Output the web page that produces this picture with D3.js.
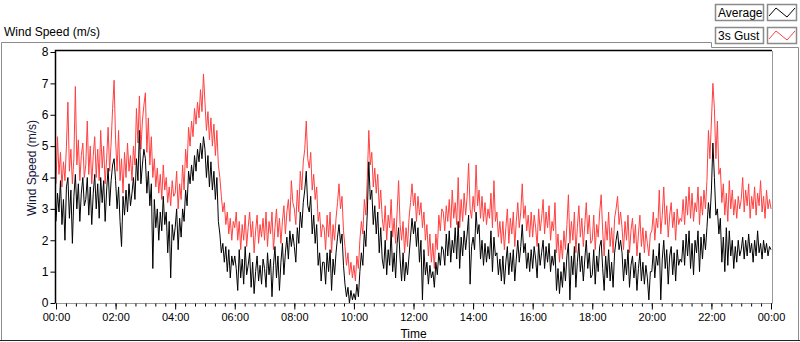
<!DOCTYPE html>
<html>
<head>
<meta charset="utf-8">
<script src="https://cdn.jsdelivr.net/npm/d3@7"></script>
<style>
  html, body { margin: 0; padding: 0; background: #fff; }
  svg { display: block; font-family: "Liberation Sans", Arial, sans-serif; }
</style>
</head>
<body>
<div id="chart"></div>
<script>
// Sampled every 3 minutes from 00:00 to 24:00 (one row per hour)
const average = [
  2.6,3.5,2.9,3.9,2.5,3.3,2.0,3.7,4.0,2.7,3.6,1.9,3.4,4.1,3.0,3.8,2.6,3.5,4.0,3.1,
  3.3,4.0,2.8,3.7,2.5,3.5,4.1,3.0,3.8,2.7,4.0,3.2,3.9,2.6,3.6,4.3,3.1,3.9,4.4,4.6,
  3.9,3.0,3.7,2.6,1.8,3.4,2.8,3.6,2.9,3.8,3.1,3.5,4.0,3.3,4.6,3.9,5.5,3.8,4.4,4.9,
  4.6,3.5,4.2,3.1,3.8,1.1,3.3,2.4,3.0,2.0,2.9,2.3,3.4,2.5,2.9,1.6,2.6,0.8,2.5,2.0,
  2.4,3.0,1.7,2.7,2.1,3.0,2.6,3.6,3.1,4.2,3.8,4.4,3.9,4.7,4.2,4.9,4.5,5.1,4.6,5.3,
  4.9,4.0,4.7,3.7,4.5,3.6,4.2,3.3,4.0,2.6,2.2,1.6,1.9,1.3,1.8,1.0,1.7,0.8,1.5,1.2,
  1.5,1.1,0.4,1.7,0.8,1.4,0.6,1.8,0.9,1.2,1.6,0.5,1.3,0.3,1.0,1.5,0.7,1.2,0.6,1.4,
  1.1,0.5,1.6,0.9,1.4,0.2,1.2,1.8,0.8,1.5,0.4,1.3,1.9,0.9,1.6,2.1,1.4,2.3,1.8,2.2,
  1.8,1.3,2.4,1.9,2.9,2.4,3.2,3.6,4.2,3.1,2.9,3.4,2.2,2.8,1.9,2.5,1.2,1.6,0.7,1.3,
  1.3,0.6,1.6,1.0,1.7,0.4,1.4,0.9,1.6,2.1,2.5,1.9,2.2,1.2,0.6,0.2,0.5,0.0,0.4,0.1,
  0.3,0.1,0.6,0.2,1.0,1.6,1.2,2.3,1.8,2.9,4.5,3.3,3.6,2.5,3.1,2.2,2.9,1.6,2.4,1.4,
  1.1,2.0,0.9,1.7,1.2,2.3,1.0,1.6,0.8,1.9,2.4,1.4,0.7,1.6,0.7,1.3,0.9,1.5,2.1,2.7,
  2.2,2.6,1.8,2.4,1.3,2.0,0.1,1.7,0.9,1.3,0.6,1.2,0.8,1.0,0.5,1.3,0.9,1.6,1.2,1.8,
  1.7,1.2,2.2,1.5,2.3,1.3,2.0,1.6,2.4,1.4,2.6,1.1,2.1,1.5,2.3,1.7,2.2,2.8,0.6,1.8,
  2.1,1.7,2.9,2.2,2.5,1.4,2.0,1.2,1.9,1.3,1.8,1.4,2.3,1.0,2.1,1.5,1.6,0.9,1.4,0.7,
  1.5,0.6,1.3,1.8,0.9,1.6,1.0,1.7,0.7,1.4,2.0,1.3,1.8,2.5,1.6,1.9,1.1,1.6,1.0,1.7,
  1.1,1.8,1.4,0.8,1.9,1.2,1.6,2.0,1.1,1.8,1.3,1.9,1.0,1.5,1.2,1.7,0.4,1.1,0.3,1.0,
  0.5,1.3,0.7,1.5,1.9,0.1,1.5,0.9,1.8,0.5,1.3,1.9,1.0,1.5,0.7,1.4,2.0,1.1,1.6,0.8,
  0.9,1.7,0.6,1.5,1.0,1.8,2.0,1.1,0.4,1.5,0.8,1.7,0.7,1.3,0.5,1.6,2.0,2.3,1.7,2.0,
  1.6,0.7,1.4,0.9,1.7,0.5,1.2,1.5,0.8,1.3,0.4,1.1,1.6,0.7,1.3,0.6,1.2,0.8,0.1,1.0,
  1.0,1.7,0.8,1.5,1.2,1.9,0.1,1.4,2.0,1.1,1.7,0.6,1.5,1.8,0.9,1.6,0.7,1.7,1.2,1.4,
  1.3,2.0,1.2,2.2,1.5,2.3,1.1,1.9,0.9,2.0,1.6,2.3,1.0,2.1,1.4,2.2,1.7,2.4,3.2,2.7,
  3.6,5.1,4.0,2.8,3.0,2.2,2.7,1.3,2.1,1.0,2.4,1.2,2.3,1.5,2.0,1.1,1.8,1.3,2.0,1.5,
  1.7,2.1,1.4,2.0,1.5,2.2,1.6,1.9,1.3,2.0,1.5,2.3,1.6,1.9,1.4,2.0,1.6,1.9,1.5,1.8,
  1.7
];

const gust = [
  3.8,5.3,4.1,4.8,3.7,4.5,3.9,5.0,6.4,4.2,4.9,3.8,4.6,6.9,4.4,5.2,3.9,4.7,5.1,4.0,
  4.4,5.8,4.1,5.0,3.8,4.7,5.3,4.0,4.9,3.9,5.5,4.3,5.0,3.8,4.6,5.6,4.2,5.1,6.2,7.1,
  5.2,4.2,5.5,3.9,4.6,3.5,4.8,4.0,5.1,4.2,4.7,3.9,5.0,4.4,6.2,5.1,6.6,4.9,5.8,6.3,
  6.7,4.8,5.9,4.4,5.3,4.0,4.6,3.7,4.3,3.5,4.1,3.3,4.4,3.6,4.0,3.2,3.7,3.1,3.9,3.4,
  3.5,4.2,3.0,3.8,3.3,4.4,3.6,4.9,4.3,5.6,5.0,5.8,5.3,6.2,5.7,6.4,5.9,6.8,6.1,7.3,
  6.4,5.5,6.1,5.2,5.9,5.0,5.7,4.7,5.5,4.4,4.0,3.4,2.9,3.2,2.5,2.9,2.2,2.7,2.0,2.6,
  2.4,2.9,2.0,2.6,1.7,2.5,2.0,2.8,1.8,2.4,2.9,2.1,2.6,1.6,2.3,2.8,1.9,2.5,2.1,2.7,
  2.0,2.9,1.8,2.6,2.2,2.9,1.7,2.4,3.0,2.1,2.7,1.9,2.6,3.1,2.2,2.9,3.3,2.6,3.9,3.2,
  3.0,2.5,3.6,2.9,4.2,3.6,4.5,4.9,5.8,4.6,4.3,4.8,3.6,4.1,3.3,3.7,2.6,2.9,2.1,2.5,
  2.4,1.7,2.8,2.1,2.9,1.6,2.5,2.0,2.7,3.2,3.8,3.0,3.4,2.3,1.8,1.2,1.6,0.9,1.3,0.8,
  1.2,0.7,1.5,1.1,2.0,2.6,2.2,3.3,2.8,4.0,5.5,4.4,4.8,3.7,4.3,3.5,4.1,3.0,3.6,2.7,
  2.3,3.1,2.0,2.8,2.4,3.3,2.1,2.7,1.9,2.9,3.9,2.5,2.0,2.6,1.6,2.4,1.8,2.7,3.2,3.8,
  3.1,3.5,2.6,3.4,2.8,3.2,2.4,2.9,2.0,2.5,1.5,2.2,1.3,1.9,1.1,2.2,1.7,2.8,2.3,3.0,
  2.9,2.3,3.1,2.6,3.3,2.4,3.6,2.7,3.2,2.5,4.0,2.4,3.3,2.6,3.5,2.8,3.4,4.45,3.0,2.7,
  3.4,2.9,4.4,3.1,3.6,2.7,3.4,2.6,3.2,2.5,3.0,2.7,3.5,2.4,3.9,2.6,2.9,2.1,2.6,1.9,
  2.6,1.7,2.4,3.0,1.9,2.7,2.2,2.9,1.8,2.6,3.2,2.4,2.9,3.8,2.7,3.1,2.3,2.8,2.1,2.9,
  2.1,2.8,2.4,1.8,3.0,2.3,2.7,3.3,2.2,2.9,2.4,3.1,2.0,2.6,2.3,3.2,1.6,2.2,1.3,2.0,
  1.4,2.3,1.7,2.5,3.45,1.9,2.6,2.0,2.9,1.6,2.4,3.1,2.1,2.7,1.8,2.5,3.2,2.2,2.8,1.9,
  2.0,2.8,1.7,2.5,2.1,2.9,3.45,2.3,1.5,2.6,2.0,2.9,1.8,2.4,1.6,2.7,3.0,3.4,2.5,2.9,
  2.4,1.7,2.6,2.0,2.8,1.6,2.3,2.7,1.9,2.5,1.5,2.2,2.8,1.8,2.4,1.6,2.3,1.9,1.5,2.2,
  2.3,2.9,2.0,2.7,2.4,3.6,2.2,2.8,3.7,2.5,3.1,2.1,2.8,3.2,2.4,2.9,2.0,3.0,2.5,2.7,
  2.6,3.3,2.5,3.4,2.8,3.7,2.7,3.5,2.6,3.2,2.9,3.7,2.5,3.4,2.8,3.6,3.0,3.9,5.5,4.6,
  5.8,7.0,6.2,4.6,5.8,4.1,4.3,3.2,3.8,2.8,3.5,2.6,3.9,3.0,3.6,2.8,3.3,2.7,3.4,3.0,
  3.3,4.0,2.9,3.6,3.1,3.8,2.7,3.4,3.0,3.7,2.8,3.5,3.1,3.9,2.9,3.4,2.7,3.6,3.0,3.3,
  3.0
];

const stepMinutes = 3;
const yTicks = [0, 1, 2, 3, 4, 5, 6, 7, 8];
const xTickLabels = ["00:00", "02:00", "04:00", "06:00", "08:00", "10:00", "12:00",
                     "14:00", "16:00", "18:00", "20:00", "22:00", "00:00"];
const seriesNames = ["Average", "3s Gust"];
const seriesColors = ["#000000", "#ff4040"];

const width = 800, height = 342;
const plot = { left: 56, right: 771, top: 52, bottom: 303 };

const svg = d3.select("#chart").append("svg")
    .attr("width", width)
    .attr("height", height);

// outer frame
svg.append("path")
    .attr("d", "M1.5,340 V42.5 H711.5 V47.5 H798.5 V340")
    .attr("fill", "none")
    .attr("stroke", "#8c8c8c");
svg.append("line")
    .attr("x1", 0).attr("x2", width)
    .attr("y1", 340.5).attr("y2", 340.5)
    .attr("stroke", "#222");

svg.append("text")
    .attr("x", 4).attr("y", 36)
    .style("font-size", "12px")
    .text("Wind Speed (m/s)");

const x = d3.scaleLinear().domain([0, 1440]).range([plot.left, plot.right]);
const y = d3.scaleLinear().domain([0, 8]).range([plot.bottom, plot.top]);

// plot area
svg.append("rect")
    .attr("x", plot.left).attr("y", plot.top - 1)
    .attr("width", plot.right - plot.left + 1)
    .attr("height", plot.bottom - plot.top + 1)
    .attr("fill", "#fff");

svg.append("clipPath").attr("id", "clip")
    .append("rect")
    .attr("x", plot.left).attr("y", plot.top - 1)
    .attr("width", plot.right - plot.left + 1)
    .attr("height", plot.bottom - plot.top + 1);

const line = d3.line()
    .x((d, i) => x(i * stepMinutes))
    .y(d => y(d));

const lines = svg.append("g").attr("clip-path", "url(#clip)");
lines.append("path")
    .datum(gust)
    .attr("d", line)
    .attr("fill", "none")
    .attr("stroke", seriesColors[1])
    .attr("stroke-width", 1);
lines.append("path")
    .datum(average)
    .attr("d", line)
    .attr("fill", "none")
    .attr("stroke", seriesColors[0])
    .attr("stroke-width", 1);

// plot borders
svg.append("path")
    .attr("d", `M${plot.left - 0.5},${plot.bottom} V${plot.top - 1.5} H${plot.right + 1}`)
    .attr("fill", "none").attr("stroke", "#000").attr("stroke-width", 1.5);
svg.append("path")
    .attr("d", `M${plot.right + 1.5},${plot.top - 1} V${plot.bottom + 0.5} H${plot.left}`)
    .attr("fill", "none").attr("stroke", "#9a9a9a");

// y axis
const yAxis = svg.append("g")
    .attr("transform", `translate(${plot.left - 0.5},0)`)
    .call(d3.axisLeft(y).tickValues(yTicks).tickSize(5).tickPadding(2).tickFormat(d3.format("d")));
yAxis.select(".domain").remove();
yAxis.selectAll("text").style("font-size", "12px").attr("fill", "#000");
yAxis.selectAll("line").attr("stroke", "#000");

// x axis: minor then major ticks
const xMinor = svg.append("g")
    .attr("transform", `translate(0,${plot.bottom + 0.5})`)
    .call(d3.axisBottom(x).tickValues(d3.range(0, 1441, 20)).tickSize(3).tickFormat(""));
xMinor.select(".domain").remove();
xMinor.selectAll("line").attr("stroke", "#000");

const xMajor = svg.append("g")
    .attr("transform", `translate(0,${plot.bottom + 0.5})`)
    .call(d3.axisBottom(x).tickValues(d3.range(0, 1441, 120)).tickSize(6).tickPadding(4)
        .tickFormat((d, i) => xTickLabels[i]));
xMajor.select(".domain").remove();
xMajor.selectAll("line").attr("stroke", "#000");
xMajor.selectAll("text").style("font-size", "11px").attr("fill", "#000");

svg.append("text")
    .attr("x", (plot.left + plot.right) / 2).attr("y", 338)
    .attr("text-anchor", "middle")
    .style("font-size", "12px")
    .text("Time");

svg.append("text")
    .attr("transform", "translate(36,168) rotate(-90)")
    .attr("text-anchor", "middle")
    .style("font-size", "12px")
    .attr("fill", "#14143a")
    .text("Wind Speed (m/s)");

// legend
const legend = svg.selectAll(".legend")
    .data(seriesNames)
    .enter().append("g")
    .attr("class", "legend")
    .attr("transform", (d, i) => `translate(715,${4 + i * 23})`);

legend.append("rect")
    .attr("x", 0.5).attr("y", 0.5)
    .attr("width", 48).attr("height", 16)
    .attr("fill", "#fff")
    .attr("stroke", "#8a8a8a").attr("stroke-width", 1.5);
legend.append("text")
    .attr("x", 3).attr("y", 13)
    .style("font-size", "12px")
    .text(d => d);
legend.append("rect")
    .attr("x", 52.5).attr("y", 0.5)
    .attr("width", 29).attr("height", 16)
    .attr("fill", "#fff")
    .attr("stroke", "#8a8a8a").attr("stroke-width", 1.5);
legend.append("path")
    .attr("d", "M54,12 L61,4 L72,13 L80,4")
    .attr("fill", "none")
    .attr("stroke", (d, i) => seriesColors[i]);
</script>
</body>
</html>
